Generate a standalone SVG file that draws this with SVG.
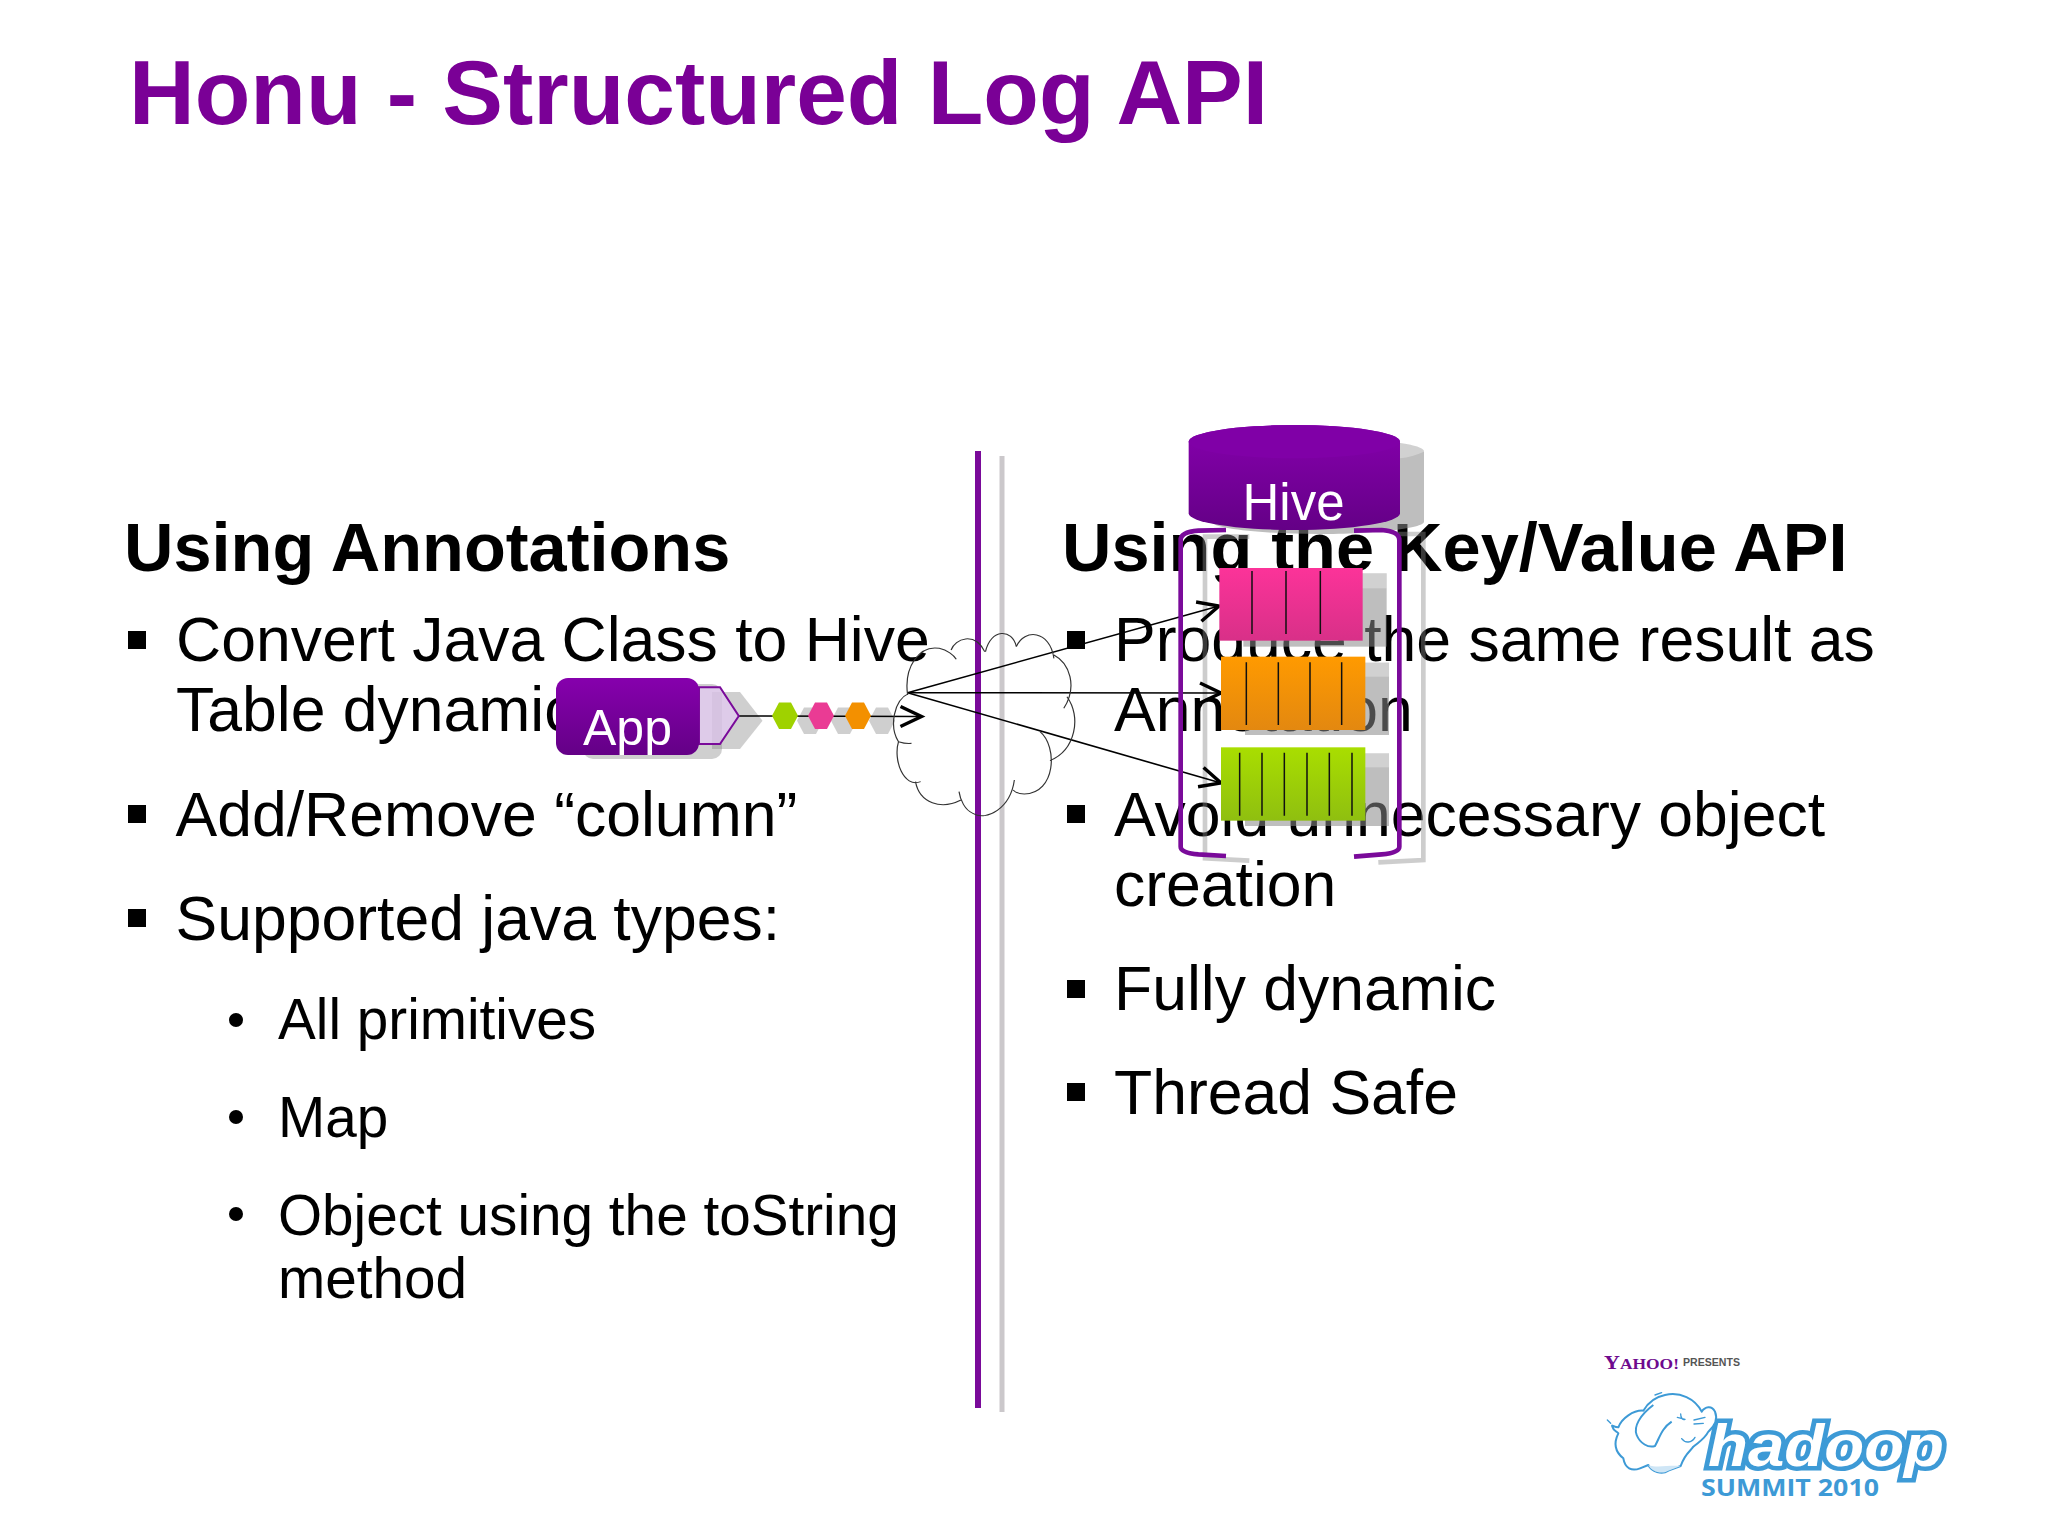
<svg xmlns="http://www.w3.org/2000/svg" width="2048" height="1536" viewBox="0 0 2048 1536">
<style>
text{font-family:"Liberation Sans",Arial,sans-serif;fill:#000}
.title{font-size:91px;font-weight:700;fill:#7a0096}
.h{font-size:68.5px;font-weight:700}
.b{font-size:62.5px}
.s{font-size:56.7px}
.sq{fill:#000}
.sh{fill:#888;opacity:.55}
.shx{fill:#888;opacity:.4}
.shb{fill:#fff;opacity:.3}
.shl{fill:none;stroke:#888;opacity:.42;stroke-width:14}
.vl{stroke:#111;stroke-width:4.5}
.conn{fill:none;stroke:#000;stroke-width:1.6}
.cl{fill:none;stroke:#333;stroke-width:3}
.wl{fill:#fff;font-weight:400}
.br{fill:none;stroke:#7a0a9a;stroke-width:14}
.elo{fill:#fff;stroke:#3d9ad6;stroke-width:6;stroke-linejoin:round}
.eli{fill:none;stroke:#3d9ad6;stroke-width:4;stroke-linecap:round}
</style>
<defs>
<linearGradient id="gp" x1="0" y1="0" x2="0" y2="1"><stop offset="0" stop-color="#8600ad"/><stop offset="1" stop-color="#640086"/></linearGradient>
<linearGradient id="gk" x1="0" y1="0" x2="0" y2="1"><stop offset="0" stop-color="#fc3399"/><stop offset="1" stop-color="#d83088"/></linearGradient>
<linearGradient id="go" x1="0" y1="0" x2="0" y2="1"><stop offset="0" stop-color="#ff9a00"/><stop offset="1" stop-color="#e38810"/></linearGradient>
<linearGradient id="gg" x1="0" y1="0" x2="0" y2="1"><stop offset="0" stop-color="#a9de00"/><stop offset="1" stop-color="#8fbf10"/></linearGradient>
<marker id="ah" markerUnits="userSpaceOnUse" markerWidth="30" markerHeight="30" refX="26" refY="15" orient="auto" overflow="visible"><path d="M5,5 L26,15 L5,25" fill="none" stroke="#000" stroke-width="3.4"/></marker>
<polygon id="hex" points="-13,0 -6,-13.3 6,-13.3 13,0 6,13.3 -6,13.3"/>
</defs>
<rect width="2048" height="1536" fill="#fff"/>
<g id="text">
<text class="title" x="129" y="124">Honu - Structured Log API</text>
<text class="h" x="124" y="571">Using Annotations</text>
<rect class="sq" x="128" y="631" width="18" height="18"/>
<text class="b" x="176" y="661">Convert Java Class to Hive</text>
<text class="b" x="176" y="731">Table dynamically</text>
<rect class="sq" x="128" y="805" width="18" height="18"/>
<text class="b" x="175.5" y="835.5">Add/Remove “column”</text>
<rect class="sq" x="128" y="909" width="18" height="18"/>
<text class="b" x="175.5" y="940">Supported java types:</text>
<circle class="sq" cx="236" cy="1020" r="7"/>
<text class="s" x="278" y="1038.5">All primitives</text>
<circle class="sq" cx="236" cy="1117" r="7"/>
<text class="s" x="278" y="1136.5">Map</text>
<circle class="sq" cx="236" cy="1214" r="7"/>
<text class="s" x="278" y="1234.5">Object using the toString</text>
<text class="s" x="278" y="1297.5">method</text>
<text class="h" x="1062" y="571">Using the Key/Value API</text>
<rect class="sq" x="1067" y="631" width="18" height="18"/>
<text class="b" x="1114" y="661">Produce the same result as</text>
<text class="b" x="1114" y="731">Annotation</text>
<rect class="sq" x="1067" y="805" width="18" height="18"/>
<text class="b" x="1114" y="835.5">Avoid unnecessary object</text>
<text class="b" x="1114" y="906">creation</text>
<rect class="sq" x="1067" y="980" width="18" height="18"/>
<text class="b" x="1114" y="1010">Fully dynamic</text>
<rect class="sq" x="1067" y="1083" width="18" height="18"/>
<text class="b" x="1114" y="1114">Thread Safe</text>
</g>
<g id="dividers">
<rect x="975" y="451" width="6" height="957" fill="#7a0a9a"/>
<rect x="999.5" y="456" width="5" height="956" fill="#cbc8cb"/>
</g>
<g id="shadows">
<rect class="shx" x="583" y="684" width="139" height="75" rx="10"/>
<polygon class="shx" points="712,692 740,692 762.5,720.7 740,749 712,749"/>
<use href="#hex" class="shx" x="810" y="720.7"/>
<use href="#hex" class="shx" x="844" y="720.7"/>
<use href="#hex" class="shx" x="882" y="720.7"/>
<g transform="translate(1130,410) scale(.33333)">
<path class="sh" d="M245,140 C245,105 400,85 565,85 C730,85 882,100 882,125 L882,335 C882,355 730,372 565,372 C400,372 245,355 245,335 Z"/>
<path class="shb" d="M810,86 C850,90 882,105 882,125 C860,135 835,142 810,145 Z"/>
<path class="shl" d="M358,380 L225,380 L225,1345 L358,1352"/>
<path class="shl" d="M745,1357 L880,1350 L880,372 L800,372"/>
<rect class="sh" x="340" y="490" width="430" height="220"/><rect class="shb" x="340" y="490" width="430" height="45"/>
<rect class="sh" x="345" y="758" width="432" height="217"/><rect class="shb" x="345" y="758" width="432" height="42"/>
<rect class="sh" x="345" y="1030" width="432" height="218"/><rect class="shb" x="345" y="1030" width="432" height="42"/>
</g>
</g>
<g id="connectors">
<line class="conn" x1="739" y1="716" x2="921.5" y2="716.5" marker-end="url(#ah)"/>
<line class="conn" x1="907.6" y1="692.7" x2="1219" y2="606" marker-end="url(#ah)"/>
<line class="conn" x1="907.6" y1="692.7" x2="1221" y2="693" marker-end="url(#ah)"/>
<line class="conn" x1="907.6" y1="692.7" x2="1221" y2="783" marker-end="url(#ah)"/>
</g>
<g id="node-app">
<polygon points="699,687.3 720,687.3 738.8,716 720,744 699,744" fill="#e3c9f3" fill-opacity=".72" stroke="#7a0a9a" stroke-width="2"/>
<rect x="556" y="678" width="143" height="77" rx="12" fill="url(#gp)"/>
<text class="wl" x="583" y="745" font-size="50" style="fill:#fff">App</text>
</g>
<g id="events">
<use href="#hex" x="785" y="715.7" fill="#9fd200"/>
<use href="#hex" x="821" y="715.7" fill="#ea3b94"/>
<use href="#hex" x="858" y="715.7" fill="#f39000"/>
</g>
<g id="node-cloud" transform="translate(530,600) scale(.3954,.33333)">
<path class="cl" d="M955,285 C945,200 985,135 1035,145 C1055,150 1072,165 1078,178 M1065,150 C1075,115 1125,95 1150,155 M1152,155 C1165,85 1220,85 1230,140 M1230,140 C1250,85 1315,90 1325,175 M1325,165 C1365,190 1385,260 1350,325 M1358,290 C1395,350 1380,450 1315,482 M1290,395 C1335,440 1330,580 1250,582 C1238,582 1228,578 1222,570 M1225,540 C1215,625 1155,665 1120,640 C1100,630 1088,600 1085,575 M1090,600 C1040,630 985,610 975,545 M988,545 C945,565 918,480 932,425 C940,428 952,432 965,430 M932,425 C908,380 920,300 958,280"/>
</g>
<g id="node-hive" transform="translate(1130,410) scale(.33333)">
<path d="M176,95 A317,50 0 0 1 810,95 L810,310 A317,50 0 0 1 176,310 Z" fill="url(#gp)"/>
<ellipse cx="493" cy="95" rx="317" ry="50" fill="#8000a7"/>
<path class="br" d="M288,360 L205,362 Q152,366 152,390 L152,1310 Q152,1328 205,1333 L288,1338"/>
<path class="br" d="M672,362 L755,360 Q808,364 808,390 L808,1310 Q808,1328 755,1333 L672,1340"/>
</g>
<text class="wl" x="1293.5" y="520" text-anchor="middle" font-size="51" style="fill:#fff">Hive</text>
<g id="node-queue-pink" transform="translate(1130,410) scale(.33333)">
<rect x="268" y="474" width="430" height="218" fill="url(#gk)"/>
<path class="vl" d="M366,483V672M468,483V672M571,483V672"/>
</g>
<g id="node-queue-orange" transform="translate(1130,410) scale(.33333)">
<rect x="273" y="740" width="433" height="220" fill="url(#go)"/>
<path class="vl" d="M349,757V945M445,757V945M540,757V945M635,757V945"/>
</g>
<g id="node-queue-green" transform="translate(1130,410) scale(.33333)">
<rect x="273" y="1012" width="433" height="220" fill="url(#gg)"/>
<path class="vl" d="M329,1028V1217M396,1028V1217M463,1028V1217M531,1028V1217M598,1028V1217M666,1028V1217"/>
</g>
<g id="logo">
<text x="1604" y="1369" font-size="15" font-weight="700" textLength="75" lengthAdjust="spacingAndGlyphs" style="font-family:'Liberation Serif',serif;fill:#6e0a8e"><tspan font-size="19">Y</tspan>AHOO!</text>
<text x="1683" y="1366" font-size="10.5" font-weight="700" textLength="57" lengthAdjust="spacingAndGlyphs" style="fill:#555">PRESENTS</text>
<text x="1708" y="1466" font-size="60" font-weight="700" font-style="italic" textLength="236" lengthAdjust="spacingAndGlyphs" style="fill:#fff;stroke:#3d9ad6;stroke-width:9;paint-order:stroke;stroke-linejoin:miter">hadoop</text>
<text x="1701" y="1496" font-size="24" font-weight="700" textLength="178" lengthAdjust="spacingAndGlyphs" style="fill:#3d9ad6;font-family:'Open Sans',sans-serif">SUMMIT 2010</text>
<g transform="translate(1590,1340) scale(.33333)">
<path class="elo" d="M375,215 C365,195 345,200 335,215 C315,175 270,155 225,165 C190,172 170,195 160,212 C130,210 95,235 85,262 C70,262 62,250 68,262 C72,275 80,272 85,280 C70,310 75,335 100,355 C105,385 125,395 150,385 L175,375 C185,395 215,405 235,392 L272,378 C285,340 300,335 310,320 C335,300 345,295 355,275 C372,260 385,240 375,215 Z"/>
<path d="M175,375 C200,385 235,375 272,378 L235,392 C215,405 185,395 175,375 Z" fill="#cfe6f6"/>
<path class="elo" d="M190,195 C150,225 130,260 140,285 C150,310 175,325 195,318 C210,290 215,265 245,245"/>
<path class="eli" d="M262,232 L285,238 M272,222 C272,232 278,242 285,238 M275,296 C285,310 305,310 315,292 M312,240 L345,232 M312,252 L340,250 M52,240 L62,250 M195,165 L215,158"/>
</g>
</g>
</svg>
